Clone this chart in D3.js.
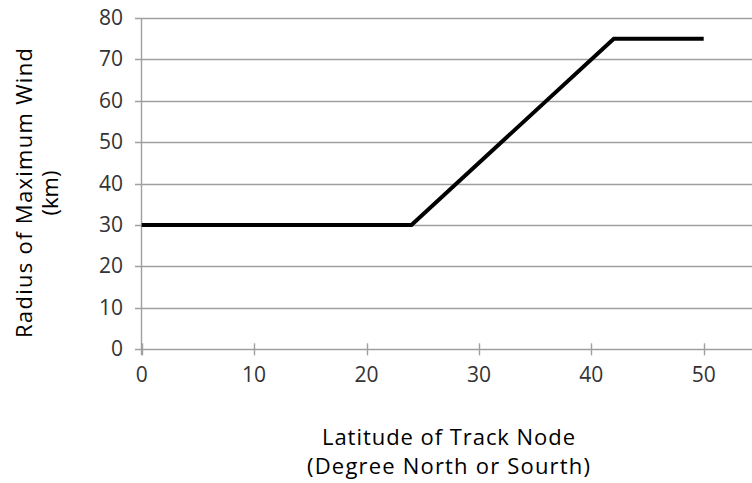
<!DOCTYPE html>
<html><head><meta charset="utf-8">
<script src="https://cdn.jsdelivr.net/npm/d3@7"></script>
<style>
html,body{margin:0;padding:0;background:#fff;overflow:hidden;}
text{font-family:"Open Sans","Liberation Sans",sans-serif;fill:#333;}
</style></head><body>
<svg id="c" width="752" height="483"></svg>
<script>
const latitude = [0, 24, 42, 50];
const radiusKm = [30, 30, 75, 75];
const xTicks = [0, 10, 20, 30, 40, 50];
const yTicks = [0, 10, 20, 30, 40, 50, 60, 70, 80];
const xTitle = ["Latitude of Track Node", "(Degree North or Sourth)"];
const yTitle = ["Radius of Maximum Wind", "(km)"];

const W = 752, H = 483;
const svg = d3.select("#c");
const x = d3.scaleLinear().domain([0, 50]).range([141.7, 703.7]);
const y = d3.scaleLinear().domain([0, 80]).range([349.3, 18]);

// gridlines
svg.append("g").selectAll("line").data(yTicks).join("line")
  .attr("x1", 135).attr("x2", W)
  .attr("y1", d => Math.round(y(d)) + 0.5).attr("y2", d => Math.round(y(d)) + 0.5)
  .attr("stroke", "#a0a0a0").attr("stroke-width", 1.4);

// y axis line
svg.append("line").attr("x1", 141.5).attr("x2", 141.5).attr("y1", y(80)).attr("y2", y(0) + 6)
  .attr("stroke", "#a0a0a0").attr("stroke-width", 1.4);

// x ticks
svg.append("g").selectAll("line").data(xTicks).join("line")
  .attr("x1", d => Math.round(x(d)) + 0.5).attr("x2", d => Math.round(x(d)) + 0.5)
  .attr("y1", y(0) - 6).attr("y2", y(0) + 6)
  .attr("stroke", "#a0a0a0").attr("stroke-width", 1.4);

// tick labels
svg.append("g").selectAll("text").data(yTicks).join("text")
  .attr("x", 123).attr("y", d => y(d)).attr("dy", "0.33em")
  .attr("text-anchor", "end").style("font-size", "21px").text(d => d);
svg.append("g").selectAll("text").data(xTicks).join("text")
  .attr("x", d => x(d)).attr("y", 382)
  .attr("text-anchor", "middle").style("font-size", "21px").text(d => d);

// line
const pts = latitude.map((d, i) => [d, radiusKm[i]]);
svg.append("path").datum(pts)
  .attr("d", d3.line().x(d => x(d[0])).y(d => y(d[1])))
  .attr("fill", "none").attr("stroke", "#000").attr("stroke-width", 4)
  .attr("stroke-linejoin", "miter");

// titles
const xLens = [253, 283];
svg.append("g").selectAll("text").data(xTitle).join("text")
  .attr("x", 448.5).attr("y", (d, i) => 445 + i * 29)
  .attr("text-anchor", "middle").attr("textLength", (d, i) => xLens[i]).attr("lengthAdjust", "spacing")
  .style("font-size", "22px").style("fill", "#000").text(d => d);
const yLens = [290, null];
svg.append("g").attr("transform", "translate(0,193) rotate(-90)")
  .selectAll("text").data(yTitle).join("text")
  .attr("x", 0).attr("y", (d, i) => 32 + i * 26)
  .attr("text-anchor", "middle")
  .each(function(d, i){ if (yLens[i]) d3.select(this).attr("textLength", yLens[i]).attr("lengthAdjust", "spacing"); })
  .style("font-size", "22px").style("fill", "#000").text(d => d);
</script>
</body></html>
